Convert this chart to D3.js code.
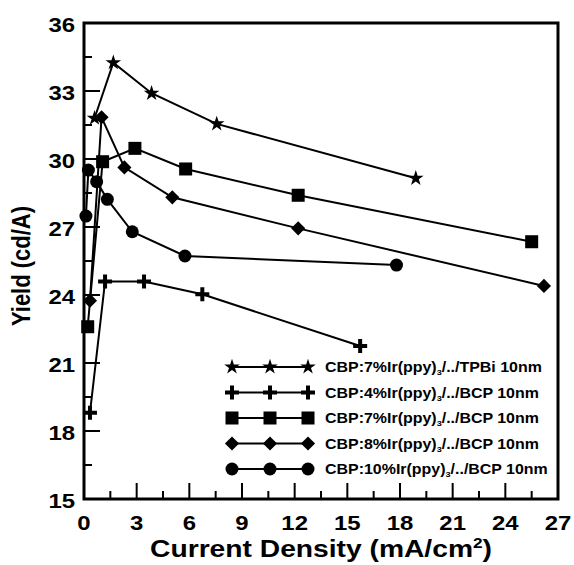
<!DOCTYPE html>
<html>
<head>
<meta charset="utf-8">
<script src="https://cdn.jsdelivr.net/npm/d3@7"></script>
<style>
  body { margin: 0; background: #fff; }
  text { font-family: "Liberation Sans", Arial, sans-serif; font-weight: bold; fill: #000; }
</style>
</head>
<body>
<svg id="chart" width="574" height="565"></svg>
<script>
// data
var xTicks = [0, 3, 6, 9, 12, 15, 18, 21, 24, 27];
var yTicks = [15, 18, 21, 24, 27, 30, 33, 36];

var starX = [0.6, 1.67, 3.85, 7.56, 18.9];
var starY = [31.8, 34.25, 32.9, 31.55, 29.15];

var plusX = [0.34, 1.2, 3.42, 6.74, 15.73];
var plusY = [18.8, 24.6, 24.6, 24.03, 21.75];

var squareX = [0.21, 1.06, 2.9, 5.79, 12.2, 25.5];
var squareY = [22.6, 29.88, 30.47, 29.56, 28.4, 26.35];

var diamondX = [0.34, 1.0, 2.3, 5.03, 12.2, 26.2];
var diamondY = [23.75, 31.84, 29.63, 28.31, 26.94, 24.4];

var circleX = [0.11, 0.25, 0.72, 1.33, 2.75, 5.75, 17.8];
var circleY = [27.48, 29.51, 29.0, 28.22, 26.79, 25.72, 25.32];

var seriesNames = [
  ["CBP:7%Ir(ppy)", "/../TPBi 10nm"],
  ["CBP:4%Ir(ppy)", "/../BCP 10nm"],
  ["CBP:7%Ir(ppy)", "/../BCP 10nm"],
  ["CBP:8%Ir(ppy)", "/../BCP 10nm"],
  ["CBP:10%Ir(ppy)", "/../BCP 10nm"]
];

var series = [
  { xs: starX, ys: starY, shape: "star" },
  { xs: plusX, ys: plusY, shape: "plus" },
  { xs: squareX, ys: squareY, shape: "square" },
  { xs: diamondX, ys: diamondY, shape: "diamond" },
  { xs: circleX, ys: circleY, shape: "circle" }
];

var svg = d3.select("#chart"),
  margin = { top: 23, right: 16, bottom: 66, left: 84 },
  width = +svg.attr("width") - margin.left - margin.right,
  height = +svg.attr("height") - margin.top - margin.bottom;

var stretch = 1.14; // the original text is a bit wide

var x = d3.scaleLinear().domain([0, 27]).range([0, width]);
var y = d3.scaleLinear().domain([15, 36]).range([height, 0]);

var g = svg.append("g")
  .attr("transform", "translate(" + margin.left + "," + margin.top + ")");

// marker drawing
function marker(sel, shape) {
  if (shape === "star") {
    sel.append("path").attr("d", d3.symbol().type(d3.symbolStar).size(75)).attr("fill", "#000");
  } else if (shape === "plus") {
    sel.append("path").attr("d", "M-7,0H7M0,-7V7")
      .attr("stroke", "#000").attr("stroke-width", 4).attr("fill", "none");
  } else if (shape === "square") {
    sel.append("rect").attr("x", -6.5).attr("y", -6.5).attr("width", 13).attr("height", 13).attr("fill", "#000");
  } else if (shape === "diamond") {
    sel.append("rect").attr("x", -5).attr("y", -5).attr("width", 10).attr("height", 10)
      .attr("transform", "rotate(45)").attr("fill", "#000");
  } else {
    sel.append("circle").attr("r", 6.5).attr("fill", "#000");
  }
}

// ticks (inside, left and bottom only)
var minorX = d3.range(1.5, 27, 3);
var minorY = d3.range(16.5, 36, 3);

g.selectAll(".xmaj").data(xTicks.slice(1, -1)).enter().append("line")
  .attr("x1", function (d) { return x(d); }).attr("x2", function (d) { return x(d); })
  .attr("y1", height).attr("y2", height - 16)
  .attr("stroke", "#000").attr("stroke-width", 2);
g.selectAll(".xmin").data(minorX).enter().append("line")
  .attr("x1", function (d) { return x(d); }).attr("x2", function (d) { return x(d); })
  .attr("y1", height).attr("y2", height - 8)
  .attr("stroke", "#000").attr("stroke-width", 2);
g.selectAll(".ymaj").data(yTicks.slice(1, -1)).enter().append("line")
  .attr("y1", function (d) { return y(d); }).attr("y2", function (d) { return y(d); })
  .attr("x1", 0).attr("x2", 16)
  .attr("stroke", "#000").attr("stroke-width", 2);
g.selectAll(".ymin").data(minorY).enter().append("line")
  .attr("y1", function (d) { return y(d); }).attr("y2", function (d) { return y(d); })
  .attr("x1", 0).attr("x2", 8)
  .attr("stroke", "#000").attr("stroke-width", 2);

// tick labels
g.selectAll(".xl").data(xTicks).enter().append("text")
  .attr("transform", function (d) { return "translate(" + x(d) + "," + (height + 31) + ") scale(" + stretch + ",1)"; })
  .attr("text-anchor", "middle")
  .style("font-size", "21px")
  .text(function (d) { return d; });
g.selectAll(".yl").data(yTicks).enter().append("text")
  .attr("transform", function (d) { return "translate(-9," + (y(d) + 9) + ") scale(" + stretch + ",1)"; })
  .attr("text-anchor", "end")
  .style("font-size", "21px")
  .text(function (d) { return d; });

// series
var line = d3.line()
  .x(function (d) { return x(d[0]); })
  .y(function (d) { return y(d[1]); });

series.forEach(function (s) {
  var pts = s.xs.map(function (v, i) { return [v, s.ys[i]]; });
  g.append("path")
    .datum(pts)
    .attr("d", line)
    .attr("fill", "none")
    .attr("stroke", "#000")
    .attr("stroke-width", 2);
  g.selectAll(null).data(pts).enter().append("g")
    .attr("transform", function (d) { return "translate(" + x(d[0]) + "," + y(d[1]) + ")"; })
    .each(function () { marker(d3.select(this), s.shape); });
});

// frame
g.append("rect")
  .attr("width", width).attr("height", height)
  .attr("fill", "none").attr("stroke", "#000").attr("stroke-width", 3);

// legend
var legend = g.append("g").attr("transform", "translate(148,344)");
series.forEach(function (s, i) {
  var row = legend.append("g").attr("transform", "translate(0," + (i * 25.5) + ")");
  row.append("line").attr("x1", 0).attr("x2", 76).attr("stroke", "#000").attr("stroke-width", 2);
  [0, 38, 76].forEach(function (px) {
    marker(row.append("g").attr("transform", "translate(" + px + ",0)"), s.shape);
  });
  var t = row.append("text")
    .attr("transform", "translate(93,5) scale(" + stretch + ",1)")
    .style("font-size", "14px");
  t.append("tspan").text(seriesNames[i][0]);
  t.append("tspan").attr("dy", 3).style("font-size", "8px").text("3");
  t.append("tspan").attr("dy", -3).text(seriesNames[i][1]);
});

// axis titles
var xTitle = svg.append("text")
  .attr("text-anchor", "middle")
  .style("font-size", "23px")
  .html('Current Density (mA/cm<tspan dy="-9" font-size="14px">2</tspan><tspan dy="9">)</tspan>');
// fit the title to the width it has in the original (about 150..492)
var xtw = xTitle.node().getBBox().width;
xTitle.attr("transform", "translate(321,557) scale(" + (342 / xtw) + ",1)");

svg.append("text")
  .attr("transform", "translate(30," + (margin.top + height / 2 + 5) + ") rotate(-90) scale(1," + stretch + ")")
  .attr("text-anchor", "middle")
  .style("font-size", "22px")
  .text("Yield (cd/A)");
</script>
</body>
</html>
